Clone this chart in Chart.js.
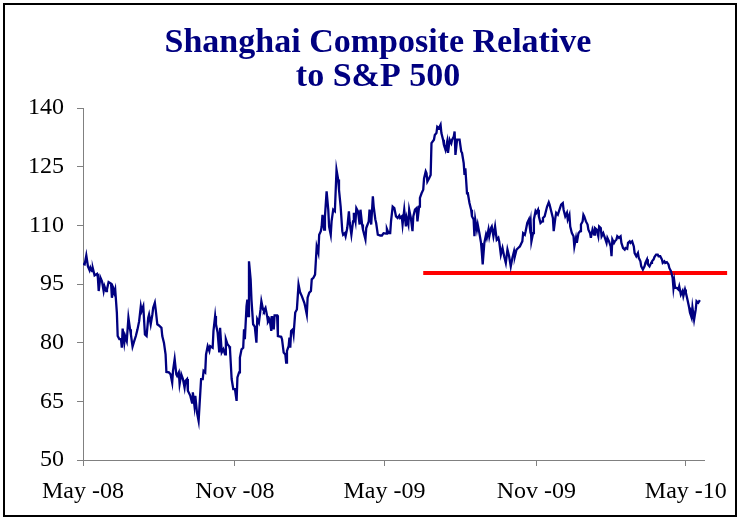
<!DOCTYPE html>
<html>
<head>
<meta charset="utf-8">
<title>Shanghai Composite Relative to S&amp;P 500</title>
<script src="https://cdn.jsdelivr.net/npm/chart.js@4.4.1/dist/chart.umd.min.js"></script>
<style>
  html, body { margin: 0; padding: 0; background: #fff; }
  #wrap { width: 740px; height: 520px; }
</style>
</head>
<body>
<div id="wrap"><canvas id="chart" width="740" height="520"></canvas></div>
<script>
// Shanghai Composite / S&P 500, rebased to 100 at May 2008.
// x = days since 1 May 2008.
const days = [
  0, 2, 4, 6, 8, 9, 11, 12, 14, 17, 18, 19, 21, 23, 25, 26, 28, 29, 31, 34,
  35, 37, 38, 39, 41, 42, 44, 46, 47, 48, 50, 51, 53, 55, 57, 58, 60, 62, 64, 66,
  68, 70, 71, 73, 75, 77, 79, 80, 82, 84, 85, 87, 88, 90, 92, 95, 96, 98, 100, 101,
  104, 106, 108, 109, 111, 113, 114, 116, 117, 119, 121, 123,
  124, 126, 127, 130, 132, 133, 135, 136, 138, 140, 143, 145, 146, 148, 149, 151, 153, 154,
  157, 158, 160, 161, 163, 165, 166, 168, 170, 172, 173, 175, 177, 178, 180, 182, 184, 186,
  187, 189, 190, 192, 194, 195, 196, 198, 199, 200, 201, 203, 204, 206, 208, 210, 211, 213,
  215, 216, 218, 219, 221, 223, 224, 226, 228, 229, 231, 232, 235, 236, 240, 241, 243, 245,
  246, 247, 249, 250,
  251, 252, 254, 255, 257, 259, 261, 263, 265, 268, 269, 271, 272, 274, 276, 277, 279, 281,
  283, 285, 286, 288, 289, 290, 292, 293, 295, 297, 298, 300, 301, 303, 305, 307, 309, 310,
  312, 314, 315, 317, 318, 320, 322, 323, 325, 327, 328, 330, 331, 333, 335, 336, 338, 339,
  342, 343, 346, 347, 349, 351, 352, 354, 355, 357, 360, 362, 364, 367, 368, 370, 372, 373,
  375, 377,
  379, 381, 383, 384, 386, 387, 389, 391, 392, 394, 395, 397, 399, 400, 402, 404, 405, 407,
  408, 410, 412, 413, 415, 416, 417, 419, 421, 422, 425, 426, 428, 429, 431, 433, 434, 436,
  437, 439, 441, 442, 444, 446, 447, 449, 450, 451, 453, 455, 456, 458, 459, 461, 462, 463,
  465, 466, 468, 470, 471, 473, 474, 475, 477, 478, 480, 482, 483, 484, 486, 488, 489, 491,
  492, 494, 495, 497, 499, 500, 501, 503, 504,
  506, 508, 510, 512, 514, 516, 518, 520, 522, 523, 525, 527, 529, 531, 532, 533, 535, 536,
  538, 540, 541, 542, 543, 545, 546, 548, 549, 551, 552, 554, 556, 557, 559, 561, 562, 564,
  565, 567, 569, 570, 572, 573, 575, 577, 579, 581, 582, 584, 586, 587, 589, 590, 592, 594,
  595, 597, 598, 600, 602, 603, 605, 606, 607, 609, 611, 612, 614, 615, 617, 619, 620, 622,
  624, 625, 627, 628, 630, 632,
  634, 635, 637, 639, 640, 641, 643, 644, 646, 647, 649, 651, 652, 654, 656, 657, 659, 660,
  662, 663, 665, 667, 668, 670, 672, 673, 675, 676, 678, 680, 681, 683, 684, 686, 688, 689,
  691, 692, 694, 696, 697, 699, 701, 702, 704, 705, 707, 709, 710, 712, 714, 715, 716, 717,
  719, 721, 722, 724, 726, 727, 729, 730, 732, 734, 735, 737, 738, 740, 742, 743, 745, 747
];
const ratio = [
  100.2, 100, 102.3, 99.5, 98.5, 99.2, 98.3, 98.9, 97.2, 97.6, 96.7, 93.2, 96.7, 95.7, 93.2, 94.4, 93.2, 93.6, 95.5, 95.1,
  91.5, 93.6, 92.8, 93.6, 87.7, 81.7, 80.9, 80.9, 78.7, 83.6, 80, 81.7, 80.4, 86.4, 83.4, 82.1, 79, 80.4, 81.7, 83.4,
  85.5, 89.3, 88.1, 89.3, 82.1, 81.7, 86.4, 87.2, 84.7, 87.2, 88.9, 90.2, 88.5, 84.7, 84.4, 83.8, 81.7, 80, 77, 72.5,
  72.4, 71.9, 69.8, 72.8, 75.8, 71.9, 71.5, 72.4, 69.4, 71.9, 70.7, 68.5,
  70.2, 70.7, 67.7, 66.4, 64.7, 67.3, 63.8, 66.4, 62.2, 60, 70.7, 70.7, 72.8, 72.4, 77, 79.1, 77.9, 79.1,
  78.7, 83, 86.8, 84.7, 82.6, 77.5, 83.8, 77.5, 78.3, 77, 80.9, 79.6, 79.1, 78.3, 70.7, 68.1, 68.1, 65.1,
  71.1, 72.4, 76.2, 78.3, 78.7, 83.4, 80.9, 89.3, 91, 86.8, 100.8, 96.2, 91, 84.7, 84.1, 80, 86, 85.1,
  88.5, 90.6, 88.5, 88.1, 88.9, 86.8, 85.3, 86, 83, 86.8, 83.4, 87, 87, 81.7, 81.5, 80.9, 77.5, 77,
  74.9, 77.9, 79.1, 81.3,
  78.7, 83, 83.4, 82.1, 87.7, 88.5, 94.9, 92.8, 91.9, 90.2, 89.3, 87.2, 91.5, 92.8, 93.2, 96.2, 96.6, 97.4,
  104.6, 103, 107.6, 108.5, 109.7, 112.7, 108.9, 112.3, 118.7, 114, 109.7, 107.6, 111, 114, 113.6, 124.2, 121.7, 119.1,
  114.8, 108.5, 107.6, 108, 107.2, 109.3, 113.6, 110.6, 107.6, 111, 113.2, 111, 114.4, 113.6, 110.2, 114, 110.2, 108.9,
  106.4, 109.3, 111, 114, 110.2, 117.4, 114.8, 111.5, 110.6, 107.6, 107.4, 107.4, 108, 107.9, 109.1, 108, 108, 111,
  114.8, 114.4,
  112.3, 111.9, 112.5, 111.9, 112.3, 110.2, 114, 109.7, 111.9, 110.2, 114, 111.9, 108.5, 112.3, 114, 114.4, 111, 114.8,
  117, 118.2, 119.1, 122, 123.8, 123.3, 121.2, 122, 122.9, 131, 131.9, 133.1, 133.6, 135.2, 134.8, 135.7, 133.6, 131.9,
  130.6, 129.3, 131.4, 128.5, 131.9, 131, 131.9, 132.7, 134, 128, 131.9, 131.9, 131.9, 128.9, 128.5, 125.9, 122.9, 124.6,
  118.2, 118.2, 115.7, 114, 112.3, 111.5, 107.2, 111.5, 108.9, 110.2, 108, 105.5, 103, 100, 105.5, 107.6, 106.8, 108.9,
  107.2, 109.3, 109.7, 107.2, 109.7, 109.7, 106.3, 106.8, 105.9,
  102.5, 104.2, 102.1, 100.4, 103.8, 102.1, 99.5, 101.7, 103.4, 102.1, 103.8, 104.2, 104.6, 105.5, 105.9, 108, 107.6, 108.5,
  110.6, 111.5, 109.7, 111, 105.9, 108, 111.5, 113.6, 113.2, 114, 112.3, 110.6, 111, 111.9, 112.3, 114, 114.8, 115.9,
  115.3, 113.6, 111.9, 108.5, 111.9, 113.2, 112.7, 114, 115.3, 115.7, 114, 112.3, 113.2, 111.5, 112.7, 109.7, 108, 107.2,
  104.6, 106.8, 105.5, 108, 108.5, 110.2, 111, 112.7, 112.3, 111, 110.2, 108.9, 108, 106.8, 108.9, 107.6, 109.3, 108.9,
  107.2, 109.7, 109.3, 107.2, 108, 106.8,
  105.5, 106.8, 105.9, 104.6, 102.1, 106.4, 105.5, 105.9, 106.4, 107.2, 106.8, 107.2, 105.5, 104.2, 103.8, 104.2, 104, 105.5,
  105.9, 105.5, 105.9, 104.6, 102.9, 102.1, 102.9, 101.7, 100.8, 99.5, 98.7, 99.5, 100.4, 101.3, 100, 99.5, 100.4, 100.8,
  101.3, 101.9, 102.5, 102.5, 102.1, 102.1, 101.3, 100.4, 100.8, 100.4, 100.6, 100, 99.1, 98.3, 96.6, 94, 95.7, 94,
  94, 93.6, 94.4, 92.3, 93.2, 91.9, 93.6, 92.8, 91, 89, 87.7, 86.4, 89, 85.9, 88.5, 90.6, 90.2, 90.9
];

// support level drawn in red
const supportLevel = 97.8;
const supportDays = [412, 780];

// x-axis ticks (days since 1 May 2008)
const tickDays = [0, 184, 365, 549, 730];
const tickLabels = ["May -08", "Nov -08", "May -09", "Nov -09", "May -10"];

const SERIF = '"Liberation Serif", "Times New Roman", serif';
const NAVY = "#000080";
const AXIS = "#808080";

const frame = {
  id: "frame",
  beforeDraw(chart) {
    const { ctx } = chart;
    ctx.save();
    ctx.fillStyle = "#fff";
    ctx.fillRect(0, 0, chart.width, chart.height);
    ctx.restore();
  },
  afterDraw(chart) {
    const { ctx } = chart;
    ctx.save();
    ctx.strokeStyle = "#000";
    ctx.lineWidth = 2;
    ctx.strokeRect(4, 4, 732, 512);
    ctx.restore();
  },
};

new Chart(document.getElementById("chart"), {
  type: "line",
  data: {
    datasets: [
      {
        data: days.map((d, i) => ({ x: d, y: ratio[i] })),
        borderColor: NAVY,
        borderWidth: 2.3,
        pointRadius: 0,
        tension: 0,
      },
      {
        data: supportDays.map((d) => ({ x: d, y: supportLevel })),
        borderColor: "#ff0000",
        borderWidth: 4,
        pointRadius: 0,
        clip: false,
      },
    ],
  },
  options: {
    responsive: false,
    animation: false,
    devicePixelRatio: 1,
    layout: { padding: { left: 20, right: 4, top: 0, bottom: 0 } },
    plugins: {
      legend: { display: false },
      tooltip: { enabled: false },
      title: {
        display: true,
        text: ["Shanghai Composite Relative", "to S&P 500"],
        color: NAVY,
        font: { family: SERIF, size: 34, weight: "bold", lineHeight: 1.0 },
        padding: { top: 26, bottom: 14 },
      },
    },
    scales: {
      x: {
        type: "linear",
        min: 0,
        max: 752,
        afterBuildTicks(scale) {
          scale.ticks = tickDays.map((v) => ({ value: v }));
        },
        afterFit(scale) {
          scale.height = 60;
        },
        ticks: {
          callback: (v) => tickLabels[tickDays.indexOf(v)],
          font: { family: SERIF, size: 24 },
          color: "#000",
          padding: 11,
          maxRotation: 0,
        },
        grid: { drawOnChartArea: false, tickLength: 6, color: AXIS },
        border: { color: AXIS, width: 1 },
      },
      y: {
        min: 50,
        max: 140,
        afterFit(scale) {
          scale.width = 63;
        },
        ticks: {
          stepSize: 15,
          font: { family: SERIF, size: 24 },
          color: "#000",
          padding: 13,
        },
        grid: { drawOnChartArea: false, tickLength: 6, color: AXIS },
        border: { color: AXIS, width: 1 },
      },
      // empty right-hand axis: keeps the plot's right edge where the original has it
      yRight: {
        position: "right",
        afterFit(scale) {
          scale.width = 32;
        },
        ticks: { display: false },
        grid: { display: false },
        border: { display: false },
      },
    },
  },
  plugins: [frame],
});
</script>
</body>
</html>
